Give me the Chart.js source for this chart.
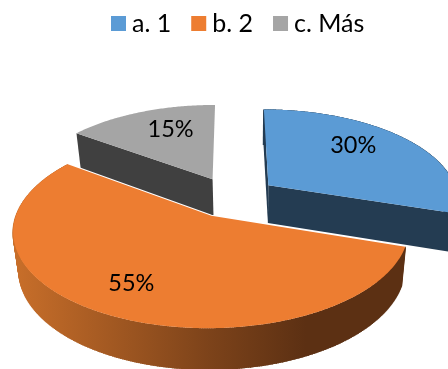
<!DOCTYPE html>
<html>
<head>
<meta charset="utf-8">
<style>
  html, body { margin: 0; padding: 0; background: #fff; }
  canvas { display: block; }
</style>
<script src="https://cdn.jsdelivr.net/npm/chart.js@4"></script>
</head>
<body>
<canvas id="myChart" width="448" height="369"></canvas>
<script>
const categories = ['a. 1', 'b. 2', 'c. Más'];
const values = [30, 55, 15];
const valueLabels = ['30%', '55%', '15%'];

const topColors = ['#5B9BD5', '#ED7D31', '#A5A5A5'];
const wallColors = ['#243C52', null, '#404040'];
const drawOrder = [2, 0, 1]; // de atras hacia delante
const onlySideWall = [false, false, true]; // la porcion gris solo enseña un lado

// sitio de cada porcentaje sobre su porcion (fraccion del radio, giro en grados)
const labelFrac = [0.71, 0.74, 0.69];
const labelTurn = [-8, 2.5, 4.6];

// proyeccion del pastel inclinado
const CX = 232.5, CY = 197, TILT = 0.464, DIST = 1331, HSCALE = 0.978;
const RADIUS = 194, EXPLODE = 44, EXPLODE_X = 1.05;
const WALL_VX = 250, WALL_SHRINK = 0.025;

function project(x, z) {
    const t = 1 / (1 - z / DIST);
    return { x: CX + HSCALE * x * t, y: CY + TILT * z * t, t: t };
}

function dropWall(p) {
    return {
        x: p.x + (WALL_VX - p.x) * WALL_SHRINK,
        y: p.y + 20 + 18 * p.t
    };
}

// contorno de una porcion: angulos que calcula Chart.js para el arco
function sliceOutline(arc, offset) {
    const a0 = arc.startAngle + Math.PI / 2;
    const a1 = arc.endAngle + Math.PI / 2;
    const mid = (a0 + a1) / 2;
    const ox = Math.sin(mid) * offset * EXPLODE_X;
    const oz = -Math.cos(mid) * offset;
    const pts = [project(ox, oz)];
    const steps = Math.ceil((a1 - a0) / 0.01);
    for (let i = 0; i <= steps; i++) {
        const a = a0 + (a1 - a0) * i / steps;
        pts.push(project(ox + Math.sin(a) * RADIUS, oz - Math.cos(a) * RADIUS));
    }
    return pts;
}

function fillPoly(ctx, pts) {
    ctx.beginPath();
    pts.forEach(function (p, n) {
        if (n === 0) ctx.moveTo(p.x, p.y);
        else ctx.lineTo(p.x, p.y);
    });
    ctx.closePath();
    ctx.fill();
}

const pie3d = {
    id: 'pie3d',
    beforeDatasetDraw(chart) {
        const ctx = chart.ctx;
        const arcs = chart.getDatasetMeta(0).data;

        const grad = ctx.createLinearGradient(12, 0, 404, 0);
        grad.addColorStop(0, '#C96F2A');
        grad.addColorStop(0.5, '#7D431A');
        grad.addColorStop(0.75, '#5C3013');
        grad.addColorStop(1, '#5C3013');

        drawOrder.forEach(function (i) {
            const pts = sliceOutline(arcs[i], arcs[i].options.offset);
            const apex = pts[0];
            const rim = pts.slice(1);
            const first = rim[0], last = rim[rim.length - 1];
            const wall = wallColors[i] || grad;

            ctx.fillStyle = wall;
            fillPoly(ctx, [apex, first, dropWall(first), dropWall(apex)]);
            if (!onlySideWall[i]) {
                fillPoly(ctx, [apex, last, dropWall(last), dropWall(apex)]);
                fillPoly(ctx, rim.concat(rim.map(dropWall).reverse()));

                // barrido de la pared, para que no quede muesca en los lados
                ctx.strokeStyle = wall;
                ctx.lineWidth = 1.5;
                rim.forEach(function (p) {
                    const b = dropWall(p);
                    ctx.beginPath();
                    ctx.moveTo(p.x, p.y);
                    ctx.lineTo(b.x, b.y);
                    ctx.stroke();
                });
            }

            // filo blanco de la porcion delantera contra las otras paredes
            if (i === drawOrder[drawOrder.length - 1]) {
                ctx.strokeStyle = '#fff';
                ctx.lineWidth = 2;
                ctx.beginPath();
                ctx.moveTo(first.x, first.y);
                ctx.lineTo(apex.x, apex.y);
                ctx.lineTo(last.x, last.y);
                ctx.stroke();
            }

            ctx.fillStyle = topColors[i];
            fillPoly(ctx, pts);
        });

        // porcentajes
        ctx.fillStyle = '#000';
        ctx.font = '23.5px Lato';
        ctx.textAlign = 'center';
        ctx.textBaseline = 'middle';
        arcs.forEach(function (arc, i) {
            const a0 = arc.startAngle + Math.PI / 2;
            const a1 = arc.endAngle + Math.PI / 2;
            const mid = (a0 + a1) / 2;
            const a = mid + labelTurn[i] * Math.PI / 180;
            const r = RADIUS * labelFrac[i];
            const x = Math.sin(mid) * arc.options.offset + Math.sin(a) * r;
            const z = -Math.cos(mid) * arc.options.offset - Math.cos(a) * r;
            const p = project(x, z);
            ctx.fillText(valueLabels[i], p.x, p.y);
        });

        // leyenda
        ctx.textAlign = 'left';
        ctx.font = '25px Lato';
        let x = 111;
        categories.forEach(function (name, i) {
            ctx.fillStyle = topColors[i];
            ctx.fillRect(x, 16, 15, 15);
            ctx.fillStyle = '#000';
            ctx.fillText(name, x + 21, 24);
            x += 21 + ctx.measureText(name).width + 20;
        });

        return false; // la porcion plana de Chart.js no se pinta
    }
};

new Chart(document.getElementById('myChart'), {
    type: 'pie',
    data: {
        labels: categories,
        datasets: [{
            data: values,
            backgroundColor: topColors,
            offset: EXPLODE,
            borderWidth: 0
        }]
    },
    options: {
        responsive: false,
        animation: false,
        plugins: {
            legend: { display: false },
            tooltip: { enabled: false }
        }
    },
    plugins: [pie3d]
});
</script>
</body>
</html>
